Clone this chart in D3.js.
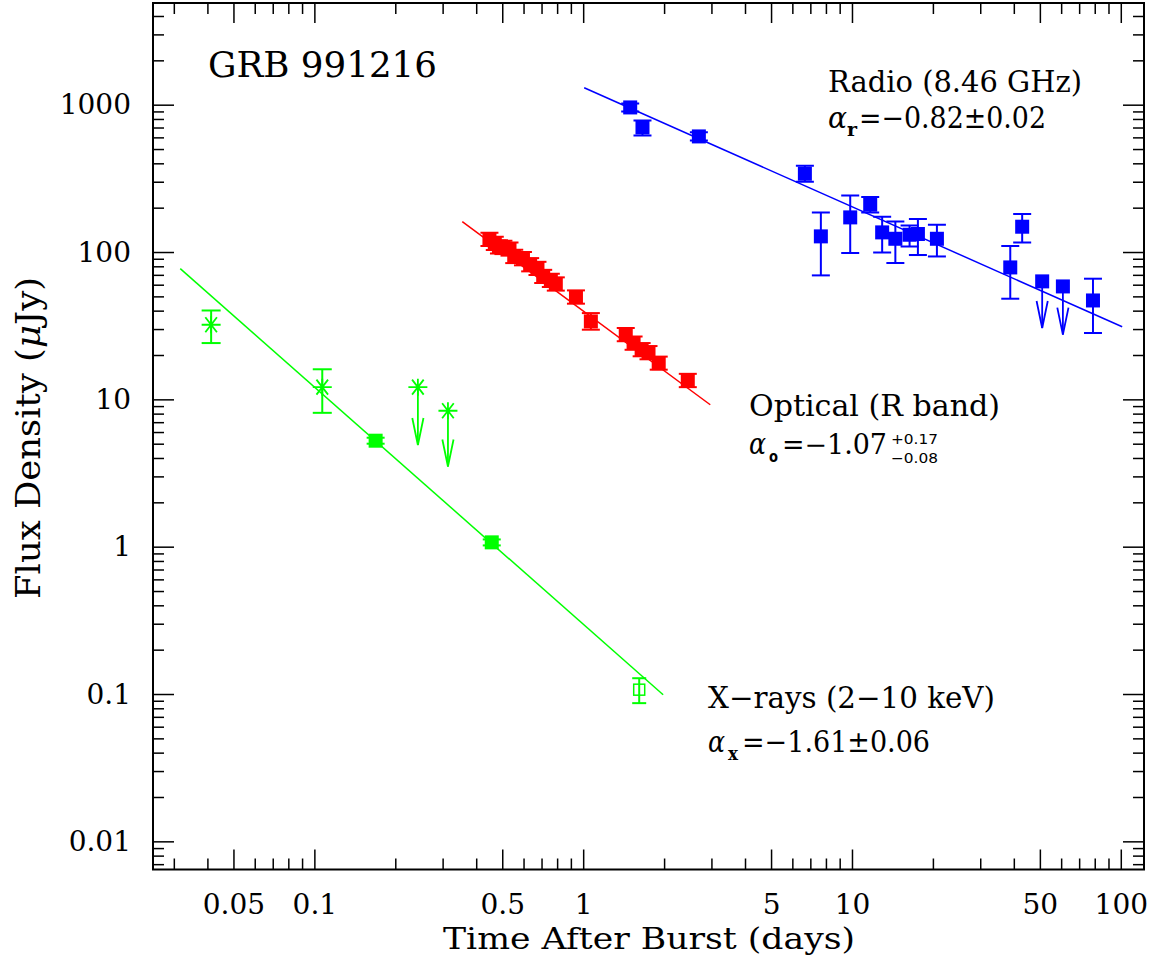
<!DOCTYPE html>
<html><head><meta charset="utf-8">
<script src="https://cdn.jsdelivr.net/npm/d3@7"></script>
<style>body{margin:0;background:#fff} svg{display:block}</style>
</head><body>
<svg id="c" width="1158" height="963"></svg>
<script>
// ---------- axes data ----------
const xDomain = [0.0251, 122];
const yDomain = [0.00644, 4900];
const xMajor = [0.05, 0.1, 0.5, 1, 5, 10, 50, 100];
const xTickLabels = ["0.05", "0.1", "0.5", "1", "5", "10", "50", "100"];
const xMinor = [0.03,0.04,0.06,0.07,0.08,0.09,0.2,0.3,0.4,0.6,0.7,0.8,0.9,2,3,4,6,7,8,9,20,30,40,60,70,80,90];
const yMajor = [0.01, 0.1, 1, 10, 100, 1000];
const yTickLabels = ["0.01", "0.1", "1", "10", "100", "1000"];
const yMinor = [0.007,0.008,0.009,
  0.02,0.03,0.04,0.05,0.06,0.07,0.08,0.09,
  0.2,0.3,0.4,0.5,0.6,0.7,0.8,0.9,
  2,3,4,5,6,7,8,9,
  20,30,40,50,60,70,80,90,
  200,300,400,500,600,700,800,900,
  2000,3000,4000];

// ---------- Radio (8.46 GHz) ----------
const radioT  = [1.496, 1.662, 2.694, 6.68, 7.66, 9.85, 11.69, 12.95, 14.5, 16.38, 17.59, 20.7, 38.8, 42.97, 78.8];
const radioF  = [958, 701, 609, 340, 127.7, 171.8, 209.6, 135.9, 123, 131, 132.5, 123, 78.6, 148.5, 46.9];
const radioLo = [900, 619, 571, 300, 69.4, 98.4, 185.7, 99.4, 84.2, 109.1, 95.4, 93.3, 48.2, 116.2, 28.2];
const radioHi = [1019, 782, 649, 385, 185.7, 242, 236, 173.7, 161.3, 151.5, 167.5, 153.2, 109.8, 181.3, 65.9];
const radioLimT  = [51.0, 60.9];
const radioLimF  = [63.2, 58.4];
const radioLimTo = [30.5, 27.5];
const radioFitT = [1.0086, 101.2];
const radioFitF = [1304, 31.1];

// ---------- Optical (R band) ----------
const optT  = [0.448,0.469,0.486,0.505,0.532,0.554,0.597,0.635,0.676,0.710,0.758,0.791,0.94,1.068,1.44,1.54,1.65,1.75,1.91,2.45];
const optF  = [121.8,114.4,108.6,107.4,104.8,93.3,90.1,82.0,77.4,68.3,64.2,60.7,49.5,33.8,27.5,24.1,21.7,20.7,17.6,13.4];
const optLo = [109.8,103.2,97.9,96.8,94.5,84.1,81.2,73.9,69.8,61.6,57.9,54.7,44.6,29.7,24.8,21.7,19.6,18.7,15.9,12.1];
const optHi = [135.1,126.9,120.4,119.1,116.2,103.5,99.9,90.9,85.8,75.7,71.2,67.3,54.9,38.5,30.5,26.7,24.1,23.0,19.5,14.9];
const optFitT = [0.355, 2.97];
const optFitF = [160.6, 9.19];

// ---------- X-rays (2-10 keV) ----------
const xrayStarT  = [0.0413, 0.107];
const xrayStarF  = [32.1, 12.1];
const xrayStarLo = [24.1, 8.1];
const xrayStarHi = [40.1, 16.0];
const xrayLimT  = [0.2427, 0.314];
const xrayLimF  = [12.1, 8.37];
const xrayLimTo = [4.9, 3.5];
const xraySqT  = [0.169, 0.457];
const xraySqF  = [5.24, 1.07];
const xraySqLo = [5.0, 1.02];
const xraySqHi = [5.49, 1.12];
const xrayOpenT  = [1.616];
const xrayOpenF  = [0.107];
const xrayOpenLo = [0.0867];
const xrayOpenHi = [0.128];
const xrayFitT = [0.0317, 1.984];
const xrayFitF = [77.1, 0.0988];

// ---------- drawing ----------
const L = 153, R = 1144, T = 3, B = 869.5;
const svg = d3.select("#c");
const x = d3.scaleLog().domain(xDomain).range([L, R]);
const y = d3.scaleLog().domain(yDomain).range([B, T]);
const SERIF = "'DejaVu Serif', serif";
const SANS = "'DejaVu Sans', sans-serif";

const BLUE = "#0000ff", RED = "#ff0000", GREEN = "#00ff00";

function styleAxis(g, showText) {
  g.select(".domain").remove();
  g.selectAll(".tick line").attr("stroke", "#000").attr("stroke-width", 1.5);
  if (!showText) g.selectAll(".tick text").remove();
  g.selectAll(".tick text").attr("font-family", SERIF).attr("font-size", 28).attr("fill", "#000");
}
const xLab = new Map(xMajor.map((v, i) => [v, xTickLabels[i]]));
const yLab = new Map(yMajor.map((v, i) => [v, yTickLabels[i]]));

// bottom
svg.append("g").attr("transform", `translate(0,${B})`)
  .call(d3.axisBottom(x).tickValues(xMajor).tickSize(-20).tickPadding(25).tickFormat(d => xLab.get(d)))
  .call(g => styleAxis(g, true));
svg.append("g").attr("transform", `translate(0,${B})`)
  .call(d3.axisBottom(x).tickValues(xMinor).tickSize(-11).tickFormat(""))
  .call(g => styleAxis(g, false));
// top
svg.append("g").attr("transform", `translate(0,${T})`)
  .call(d3.axisTop(x).tickValues(xMajor).tickSize(-20).tickFormat(""))
  .call(g => styleAxis(g, false));
svg.append("g").attr("transform", `translate(0,${T})`)
  .call(d3.axisTop(x).tickValues(xMinor).tickSize(-11).tickFormat(""))
  .call(g => styleAxis(g, false));
// left
svg.append("g").attr("transform", `translate(${L},0)`)
  .call(d3.axisLeft(y).tickValues(yMajor).tickSize(-21).tickPadding(22).tickFormat(d => yLab.get(d)))
  .call(g => styleAxis(g, true))
  .call(g => g.selectAll(".tick text").attr("dy", "0.33em"));
svg.append("g").attr("transform", `translate(${L},0)`)
  .call(d3.axisLeft(y).tickValues(yMinor).tickSize(-11).tickFormat(""))
  .call(g => styleAxis(g, false));
// right
svg.append("g").attr("transform", `translate(${R},0)`)
  .call(d3.axisRight(y).tickValues(yMajor).tickSize(-21).tickFormat(""))
  .call(g => styleAxis(g, false));
svg.append("g").attr("transform", `translate(${R},0)`)
  .call(d3.axisRight(y).tickValues(yMinor).tickSize(-11).tickFormat(""))
  .call(g => styleAxis(g, false));

// frame
svg.append("rect").attr("x", L).attr("y", T).attr("width", R - L).attr("height", B - T)
  .attr("fill", "none").attr("stroke", "#000").attr("stroke-width", 2);

// axis titles
svg.append("text").attr("x", 649).attr("y", 949).attr("text-anchor", "middle")
  .attr("font-family", SERIF).attr("font-size", 29).attr("textLength", 412).attr("lengthAdjust", "spacingAndGlyphs")
  .text("Time After Burst (days)");
const yt = svg.append("text").attr("transform", "translate(40,438) rotate(-90)").attr("text-anchor", "middle")
  .attr("font-family", SERIF).attr("font-size", 34).attr("textLength", 322).attr("lengthAdjust", "spacingAndGlyphs");
yt.append("tspan").text("Flux Density (");
yt.append("tspan").attr("font-style", "italic").text("\u03bc");
yt.append("tspan").text("Jy)");

// ---------- helpers ----------
svg.append("defs").append("clipPath").attr("id", "plotclip")
  .append("rect").attr("x", L).attr("y", T).attr("width", R - L).attr("height", B - T);
const plot = svg.append("g").attr("clip-path", "url(#plotclip)");

function fitLine(ts, fs, color) {
  const pts = ts.map((t, i) => [t, fs[i]]);
  plot.append("path").datum(pts)
    .attr("d", d3.line().x(d => x(d[0])).y(d => y(d[1])))
    .attr("stroke", color).attr("stroke-width", 1.5).attr("fill", "none");
}
function errBars(ts, lo, hi, color, cap) {
  const g = plot.append("g").attr("stroke", color).attr("stroke-width", 2);
  ts.forEach((t, i) => {
    const cx = x(t);
    g.append("line").attr("x1", cx).attr("x2", cx).attr("y1", y(lo[i])).attr("y2", y(hi[i]));
    g.append("line").attr("x1", cx - cap).attr("x2", cx + cap).attr("y1", y(lo[i])).attr("y2", y(lo[i]));
    g.append("line").attr("x1", cx - cap).attr("x2", cx + cap).attr("y1", y(hi[i])).attr("y2", y(hi[i]));
  });
}
function squares(ts, fs, color, s) {
  plot.append("g").selectAll("rect").data(ts).join("rect")
    .attr("x", (t) => x(t) - s / 2).attr("y", (t, i) => y(fs[i]) - s / 2)
    .attr("width", s).attr("height", s).attr("fill", color);
}
function openSquares(ts, fs, color, s) {
  plot.append("g").selectAll("rect").data(ts).join("rect")
    .attr("x", (t) => x(t) - s / 2).attr("y", (t, i) => y(fs[i]) - s / 2)
    .attr("width", s).attr("height", s).attr("fill", "none").attr("stroke", color).attr("stroke-width", 1.5);
}
function stars(ts, fs, color) {
  const g = plot.append("g").attr("stroke", color).attr("stroke-width", 1.8).attr("fill", "none");
  ts.forEach((t, i) => {
    const cx = x(t), cy = y(fs[i]);
    g.append("path").attr("d",
      `M${cx - 9.5},${cy}L${cx + 9.5},${cy}` +
      `M${cx},${cy - 8.5}L${cx},${cy + 8.5}` +
      `M${cx - 5.8},${cy - 7.5}L${cx + 5.8},${cy + 7.5}` +
      `M${cx - 5.8},${cy + 7.5}L${cx + 5.8},${cy - 7.5}`);
  });
}
function arrows(ts, fs, tos, color) {
  const g = plot.append("g").attr("stroke", color).attr("stroke-width", 1.8).attr("fill", "none");
  ts.forEach((t, i) => {
    const cx = x(t), y0 = y(fs[i]), y1 = y(tos[i]);
    g.append("line").attr("x1", cx).attr("x2", cx).attr("y1", y0).attr("y2", y1);
    g.append("path").attr("d", `M${cx - 5.6},${y1 - 27}L${cx},${y1}L${cx + 5.6},${y1 - 27}`);
  });
}

// ---------- marks ----------
fitLine(xrayFitT, xrayFitF, GREEN);
fitLine(optFitT, optFitF, RED);
fitLine(radioFitT, radioFitF, BLUE);

errBars(radioT, radioLo, radioHi, BLUE, 9);
squares(radioT, radioF, BLUE, 14);
arrows(radioLimT, radioLimF, radioLimTo, BLUE);
squares(radioLimT, radioLimF, BLUE, 14);

errBars(optT, optLo, optHi, RED, 9);
squares(optT, optF, RED, 14);

errBars(xrayStarT, xrayStarLo, xrayStarHi, GREEN, 9.5);
stars(xrayStarT, xrayStarF, GREEN);
arrows(xrayLimT, xrayLimF, xrayLimTo, GREEN);
stars(xrayLimT, xrayLimF, GREEN);
errBars(xraySqT, xraySqLo, xraySqHi, GREEN, 9);
squares(xraySqT, xraySqF, GREEN, 14);
errBars(xrayOpenT, xrayOpenLo, xrayOpenHi, GREEN, 7);
openSquares(xrayOpenT, xrayOpenF, GREEN, 11);

// ---------- annotations ----------
function seg(txt, px, py, size, width, opts = {}) {
  const t = svg.append("text").attr("x", px).attr("y", py)
    .attr("font-family", opts.family || SERIF).attr("font-size", size).attr("fill", "#000");
  if (opts.italic) t.attr("font-style", "italic");
  if (opts.bold) t.attr("font-weight", "bold");
  if (width) t.attr("textLength", width).attr("lengthAdjust", "spacingAndGlyphs");
  t.text(txt);
  return t;
}
seg("GRB 991216", 208, 77, 36, 229);

seg("Radio (8.46 GHz)", 828, 92, 29, 254);
seg("\u03b1", 828, 128, 30, 19, { italic: true });
seg("r", 847, 136, 18, 10, { bold: true });
seg("=\u22120.82\u00b10.02", 859, 128, 29, 187);

seg("Optical (R band)", 749, 415.5, 29, 251);
seg("\u03b1", 749, 454, 30, 17, { italic: true });
seg("o", 769, 461.5, 16, 9, { family: SANS, bold: true });
seg("=\u22121.07", 782, 454, 27, 105);
seg("+0.17", 891, 443.5, 14, 47, { family: SANS });
seg("\u22120.08", 891, 463, 14, 47, { family: SANS });

seg("X\u2212rays (2\u221210 keV)", 708, 708, 29, 287);
seg("\u03b1", 708, 751.5, 30, 17, { italic: true });
seg("x", 728, 760, 18, 10, { bold: true });
seg("=\u22121.61\u00b10.06", 742, 751.5, 29, 188);
</script>
</body></html>
